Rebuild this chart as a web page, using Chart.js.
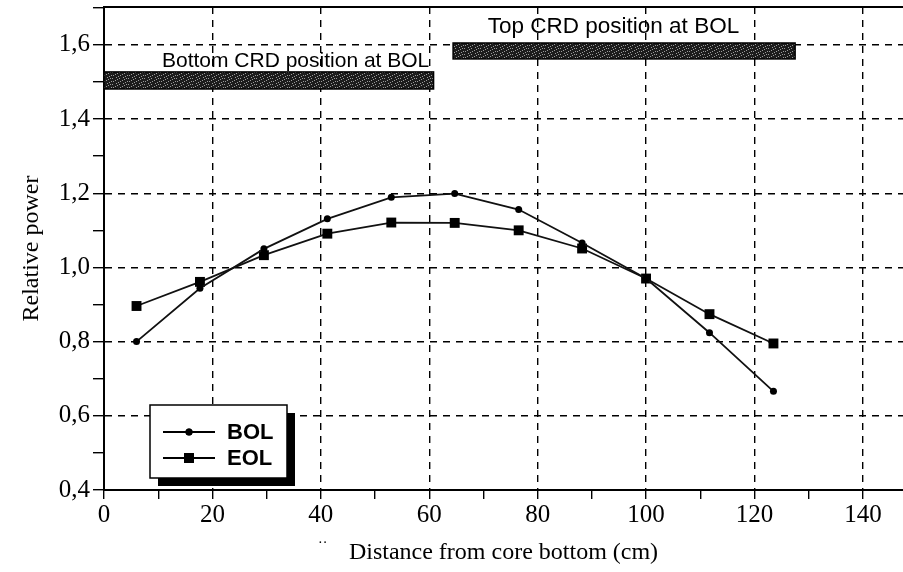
<!DOCTYPE html>
<html>
<head>
<meta charset="utf-8">
<script src="https://cdn.jsdelivr.net/npm/chart.js@4.4.0/dist/chart.umd.min.js"></script>
<style>
  html, body { margin: 0; padding: 0; background: #fff; }
  #wrap { width: 903px; height: 572px; position: relative; }
</style>
</head>
<body>
<div id="wrap"><canvas id="chart"></canvas></div>
<script>
// Données
const positions = [6, 17.7, 29.5, 41.2, 53, 64.7, 76.5, 88.2, 100, 111.7, 123.5];
const bolPower  = [0.80, 0.944, 1.05, 1.131, 1.189, 1.199, 1.156, 1.066, 0.970, 0.824, 0.666];
const eolPower  = [0.896, 0.961, 1.033, 1.091, 1.121, 1.120, 1.100, 1.051, 0.970, 0.874, 0.795];

// Barres CRD : [x début, x fin, y bas, y haut]
const crdLabels = ['Bottom CRD position at BOL', 'Top CRD position at BOL'];
const crdBars   = [[0, 60.8, 1.481, 1.527], [64.4, 127.5, 1.562, 1.605]];
const crdText   = [[10.7, 1.541], [70.8, 1.632]];

const xTitle = 'Distance from core bottom (cm)';
const yTitle = 'Relative power';

// Motif sombre pour les barres (texture déterministe)
function makePattern(ctx) {
    const c = document.createElement('canvas');
    c.width = 16; c.height = 6;
    const p = c.getContext('2d');
    p.fillStyle = '#1c1c1c';
    p.fillRect(0, 0, 16, 6);
    p.fillStyle = '#9a9a9a';
    for (let i = 0; i < 16; i++) {
        for (let j = 0; j < 6; j++) {
            if ((i * 5 + j * 3) % 7 === 0) p.fillRect(i, j, 1, 1);
        }
    }
    return ctx.createPattern(c, 'repeat');
}

const decoPlugin = {
    id: 'deco',
    beforeDatasetsDraw(chart) {
        const {ctx, chartArea, scales: {x, y}} = chart;
        ctx.save();
        // bordure du haut
        ctx.strokeStyle = '#000';
        ctx.lineWidth = 2;
        ctx.beginPath();
        ctx.moveTo(chartArea.left, chartArea.top);
        ctx.lineTo(chartArea.right, chartArea.top);
        ctx.stroke();

        // barres CRD
        const pat = makePattern(ctx);
        crdBars.forEach(b => {
            const x0 = x.getPixelForValue(b[0]);
            const x1 = x.getPixelForValue(b[1]);
            const y0 = y.getPixelForValue(b[3]);
            const y1 = y.getPixelForValue(b[2]);
            ctx.fillStyle = pat;
            ctx.fillRect(x0, y0, x1 - x0, y1 - y0);
            ctx.strokeStyle = '#000';
            ctx.lineWidth = 1.5;
            ctx.strokeRect(x0, y0, x1 - x0, y1 - y0);
        });

        // textes
        ctx.fillStyle = '#000';
        ctx.textBaseline = 'alphabetic';
        ctx.textAlign = 'left';
        ctx.font = '21px "Liberation Sans", Arial, sans-serif';
        ctx.fillText(crdLabels[0], x.getPixelForValue(crdText[0][0]), y.getPixelForValue(crdText[0][1]));
        ctx.font = '22.5px "Liberation Sans", Arial, sans-serif';
        ctx.fillText(crdLabels[1], x.getPixelForValue(crdText[1][0]), y.getPixelForValue(crdText[1][1]));

        // petits points parasites près du titre
        ctx.font = '14px "Liberation Serif", serif';
        ctx.fillText('··', 318, 547);
        ctx.restore();
    },
    afterDatasetsDraw(chart) {
        const {ctx} = chart;
        const bx = 150, by = 405, bw = 137, bh = 73;
        ctx.save();
        // ombre
        ctx.fillStyle = '#000';
        ctx.fillRect(bx + 8, by + 8, bw, bh);
        ctx.fillStyle = '#fff';
        ctx.fillRect(bx, by, bw, bh);
        ctx.strokeStyle = '#000';
        ctx.lineWidth = 1.5;
        ctx.strokeRect(bx, by, bw, bh);

        chart.data.datasets.forEach((ds, i) => {
            const ly = 432 + i * 26;
            ctx.strokeStyle = '#000';
            ctx.lineWidth = 1.8;
            ctx.beginPath();
            ctx.moveTo(163, ly);
            ctx.lineTo(215, ly);
            ctx.stroke();
            ctx.fillStyle = '#000';
            Chart.helpers.drawPoint(ctx, {
                pointStyle: ds.pointStyle,
                radius: ds.pointRadius,
                borderWidth: 0,
                rotation: 0
            }, 189, ly);
            ctx.fill();
            ctx.font = 'bold 22px "Liberation Sans", Arial, sans-serif';
            ctx.textBaseline = 'middle';
            ctx.textAlign = 'left';
            ctx.fillText(ds.label, 227, ly + 1);
        });
        ctx.restore();
    }
};

const gridColor = (major) => (ctx) => {
    if (ctx.tick === undefined) return '#000';
    return major(ctx.tick.value) ? '#000' : 'rgba(0,0,0,0)';
};
const isMajorX = v => Math.round(v) % 20 === 0;
const isMajorY = v => Math.round(v * 10) % 2 === 0;

// pas de marge ajoutée par les étiquettes en bout d'axe
const noPad = s => {
    s.paddingTop = 0; s.paddingBottom = 0;
    s.paddingLeft = 0; s.paddingRight = 0;
};

new Chart(document.getElementById('chart'), {
    type: 'scatter',
    data: {
        datasets: [
            {
                label: 'BOL',
                data: positions.map((p, i) => ({x: p, y: bolPower[i]})),
                showLine: true,
                borderColor: '#111',
                borderWidth: 1.8,
                backgroundColor: '#000',
                pointStyle: 'circle',
                pointRadius: 3.5,
                pointBorderWidth: 0
            },
            {
                label: 'EOL',
                data: positions.map((p, i) => ({x: p, y: eolPower[i]})),
                showLine: true,
                borderColor: '#111',
                borderWidth: 1.8,
                backgroundColor: '#000',
                pointStyle: 'rect',
                pointRadius: 7,
                pointBorderWidth: 0
            }
        ]
    },
    options: {
        responsive: true,
        maintainAspectRatio: false,
        animation: false,
        layout: { autoPadding: false, padding: { top: 7, left: 0, right: 0, bottom: 0 } },
        plugins: {
            legend: { display: false },
            tooltip: { enabled: false }
        },
        scales: {
            x: {
                type: 'linear',
                min: 0,
                max: 147.4,
                afterFit: s => { s.height = 82; noPad(s); },
                ticks: {
                    stepSize: 10,
                    includeBounds: false,
                    autoSkip: false,
                    maxRotation: 0,
                    padding: 1,
                    color: '#000',
                    font: { family: '"Liberation Serif", serif', size: 25 },
                    callback: v => isMajorX(v) ? String(v) : ''
                },
                grid: {
                    color: gridColor(isMajorX),
                    lineWidth: 1.4,
                    tickColor: '#000',
                    tickLength: 9
                },
                border: { display: true, color: '#000', width: 2, dash: [7, 6] },
                title: {
                    display: true,
                    text: xTitle,
                    color: '#000',
                    font: { family: '"Liberation Serif", serif', size: 24 },
                    padding: { top: 0, bottom: 5 }
                }
            },
            y: {
                min: 0.4,
                max: 1.702,
                afterFit: s => { s.width = 104; noPad(s); },
                ticks: {
                    stepSize: 0.1,
                    includeBounds: false,
                    autoSkip: false,
                    padding: 3,
                    color: '#000',
                    font: { family: '"Liberation Serif", serif', size: 25 },
                    callback: v => isMajorY(v) ? v.toFixed(1).replace('.', ',') : ''
                },
                grid: {
                    color: gridColor(isMajorY),
                    lineWidth: 1.4,
                    tickColor: '#000',
                    tickLength: 11
                },
                border: { display: true, color: '#000', width: 2, dash: [7, 6] },
                title: {
                    display: true,
                    text: yTitle,
                    color: '#000',
                    font: { family: '"Liberation Serif", serif', size: 24 },
                    padding: { top: 17, bottom: 0 }
                }
            }
        }
    },
    plugins: [decoPlugin]
});
</script>
</body>
</html>
